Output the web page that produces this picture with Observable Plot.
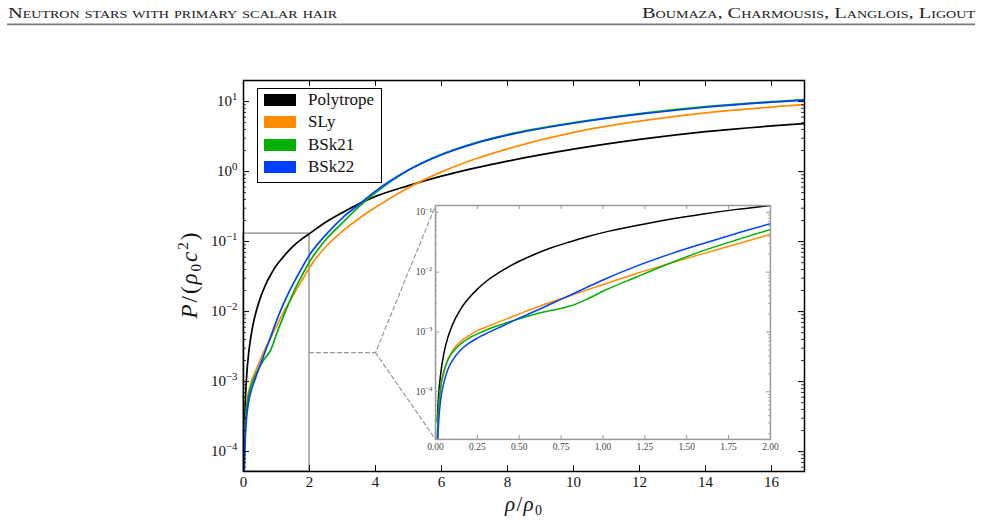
<!DOCTYPE html>
<html>
<head>
<meta charset="utf-8">
<script src="https://cdn.jsdelivr.net/npm/d3@7"></script>
<script src="https://cdn.jsdelivr.net/npm/@observablehq/plot@0.6"></script>
<style>
  html, body { margin: 0; padding: 0; background: #fff; }
  #page { position: relative; width: 982px; height: 523px; overflow: hidden; font-family: "Liberation Serif", "DejaVu Serif", serif; }
  #header { display: block; }
  #chart { position: relative; width: 982px; height: 493px; }
  #chart svg { position: absolute; left: 0; top: 0; }
  #legend { position: absolute; background: #fff; border: 1.5px solid #000; box-sizing: border-box; }
  #legend .row { position: absolute; left: 6px; height: 12px; display: flex; align-items: center; white-space: nowrap; }
  #legend .sw { width: 32px; height: 12px; }
  #legend .lab { margin-left: 12px; font-family: "Liberation Serif", "DejaVu Serif", serif; font-size: 17px; color: #111; line-height: 12px; }
</style>
</head>
<body>
<div id="page">
  <svg id="header" width="982" height="30">
    <text x="8" y="17.5" font-family="Liberation Serif, serif" font-size="14.5" font-variant="small-caps" textLength="329" lengthAdjust="spacingAndGlyphs" fill="#222">Neutron stars with primary scalar hair</text>
    <text x="975" y="17.5" text-anchor="end" font-family="Liberation Serif, serif" font-size="14.5" font-variant="small-caps" textLength="333" lengthAdjust="spacingAndGlyphs" fill="#222">Boumaza, Charmousis, Langlois, Ligout</text>
    <line x1="7" x2="975" y1="24.4" y2="24.4" stroke="#7a7a7a" stroke-width="1.8"/>
  </svg>
  <div id="chart"></div>
</div>
<script>
// Equations of state: pressure P/(rho0 c^2) against density rho/rho0
const rho = [0.01, 0.015, 0.02, 0.03, 0.05, 0.075, 0.1, 0.15, 0.2, 0.25,
             0.3, 0.4, 0.5, 0.6, 0.7, 0.8, 0.9, 1.0,
             1.2, 1.4, 1.6, 1.8, 2.0,
             2.5, 3.0, 3.5, 4.0,
             5.0, 6.0, 7.0, 8.0,
             10, 12, 14, 17];

const pPolytrope = [3.2e-5, 6.3e-5, 1.0e-4, 1.9e-4, 4.4e-4, 8.3e-4, 1.29e-3, 2.4e-3, 3.7e-3, 5.2e-3,
                    6.9e-3, 0.0107, 0.0152, 0.0203, 0.026, 0.032, 0.0388, 0.0458,
                    0.0600, 0.0766, 0.0940, 0.112, 0.130,
                    0.191, 0.260, 0.347, 0.442,
                    0.631, 0.861, 1.12, 1.41,
                    2.09, 2.88, 3.72, 4.85];

const pSLy = [1.26e-5, 3.2e-5, 5.6e-5, 1.07e-4, 2.1e-4, 3.5e-4, 4.8e-4, 6.9e-4, 8.7e-4, 1.05e-3,
              1.2e-3, 1.55e-3, 2.0e-3, 2.57e-3, 3.24e-3, 4.0e-3, 5.0e-3, 6.2e-3,
              9.5e-3, 0.014, 0.0204, 0.0295, 0.0427,
              0.085, 0.141, 0.214, 0.309,
              0.59, 0.99, 1.5, 2.11,
              3.63, 5.25, 6.9, 9.06];

const pBSk21 = [1.58e-5, 4.0e-5, 6.8e-5, 1.2e-4, 2.2e-4, 3.5e-4, 4.5e-4, 6.3e-4, 7.9e-4, 9.3e-4,
                1.07e-3, 1.35e-3, 1.66e-3, 2.0e-3, 2.32e-3, 2.69e-3, 3.47e-3, 4.8e-3,
                8.3e-3, 0.0141, 0.0229, 0.0347, 0.0513,
                0.107, 0.186, 0.316, 0.5,
                1.05, 1.76, 2.56, 3.38,
                5.0, 6.75, 8.45, 10.7];

const pBSk22 = [7.9e-6, 2.0e-5, 3.5e-5, 7.1e-5, 1.41e-4, 2.4e-4, 3.3e-4, 5.0e-4, 6.5e-4, 7.9e-4,
                9.3e-4, 1.26e-3, 1.70e-3, 2.26e-3, 3.05e-3, 4.07e-3, 5.5e-3, 7.4e-3,
                0.0126, 0.020, 0.0302, 0.0447, 0.0646,
                0.126, 0.219, 0.339, 0.525,
                1.05, 1.74, 2.51, 3.31,
                4.9, 6.6, 8.3, 10.5];

const eosNames = ["Polytrope", "SLy", "BSk21", "BSk22"];
const eosColors = ["#000000", "#ff8c00", "#00b000", "#0040ff"];
const pressures = [pPolytrope, pSLy, pBSk21, pBSk22];

// axis ticks
const xTicks = [0, 2, 4, 6, 8, 10, 12, 14, 16];
const yTicks = [1e-4, 1e-3, 1e-2, 1e-1, 1, 10];
const insetXTicks = [0, 0.25, 0.5, 0.75, 1.0, 1.25, 1.5, 1.75, 2.0];
const insetYTicks = [1e-4, 1e-3, 1e-2, 1e-1];

// axis ranges
const xDomain = [0, 17];
const yDomain = [5.2e-5, 20];
const insetXDomain = [0, 2];
const insetYDomain = [1.6e-5, 0.13];

// the zoomed-in window and where the inset sits, in main-axis units
const insetRho = [5.82, 15.97];
const insetP = [1.49e-4, 0.327];
const kneeRho = 4;

const SERIF = "'Liberation Serif', 'DejaVu Serif', serif";
const GRAY = "#999999";

const table = eosNames.flatMap((name, i) =>
  rho.map((r, j) => ({eos: name, rho: r, P: pressures[i][j]})));

function minorTicks([lo, hi]) {
  const e0 = Math.floor(Math.log10(lo)), e1 = Math.ceil(Math.log10(hi));
  return d3.range(e0, e1).flatMap(e => d3.range(2, 10).map(k => k * Math.pow(10, e)))
    .filter(v => v > lo && v < hi);
}

function powerLabel(d) { return "10^" + Math.round(Math.log10(d)); }

function superscriptLabels(svg, sel) {
  d3.select(svg).selectAll(sel).each(function () {
    const t = this.textContent;
    if (!t.includes("^")) return;
    const [base, exp] = t.split("^");
    this.textContent = "";
    const s = d3.select(this);
    s.append("tspan").text(base);
    s.append("tspan").attr("dy", "-0.55em").attr("font-size", "0.72em").text(exp.replace("-", "\u2212"));
  });
}

// ---------- main chart ----------
const M = {left: 243, right: 178, top: 50, bottom: 52};
const W = 982, H = 493;
const FW = W - M.left - M.right, FH = H - M.top - M.bottom;

const zoomBox = [{x1: insetXDomain[0], x2: insetXDomain[1], y1: yDomain[0], y2: insetYDomain[1]}];
const midP = Math.sqrt(yDomain[0] * insetYDomain[1]);
const connectors = [
  {id: "upper", rho: insetXDomain[1], P: midP},
  {id: "upper", rho: kneeRho, P: midP},
  {id: "upper", rho: insetRho[0], P: insetP[1]},
  {id: "lower", rho: kneeRho, P: midP},
  {id: "lower", rho: insetRho[0], P: insetP[0]}
];

const yMinor = minorTicks(yDomain);

const main = Plot.plot({
  width: W, height: H,
  marginLeft: M.left, marginRight: M.right, marginTop: M.top, marginBottom: M.bottom,
  style: {fontFamily: SERIF, fontSize: "14px", background: "transparent", color: "#111"},
  x: {domain: xDomain},
  y: {type: "log", domain: yDomain},
  color: {domain: eosNames, range: eosColors},
  marks: [
    Plot.rect(zoomBox, {x1: "x1", x2: "x2", y1: "y1", y2: "y2", fill: "none", stroke: GRAY, strokeWidth: 1.5}),
    Plot.line(connectors, {x: "rho", y: "P", z: "id", stroke: GRAY, strokeWidth: 1.2, strokeDasharray: "4,3"}),
    Plot.line(table, {x: "rho", y: "P", z: "eos", stroke: "eos", strokeWidth: 1.7, curve: "monotone-x", clip: true}),
    // inward ticks on all four sides
    Plot.ruleY(yTicks, {insetRight: FW - 6, stroke: "#000"}),
    Plot.ruleY(yTicks, {insetLeft: FW - 6, stroke: "#000"}),
    Plot.ruleY(yMinor, {insetRight: FW - 3, stroke: "#000", strokeWidth: 0.8}),
    Plot.ruleY(yMinor, {insetLeft: FW - 3, stroke: "#000", strokeWidth: 0.8}),
    Plot.ruleX(xTicks, {insetTop: FH - 6, stroke: "#000"}),
    Plot.ruleX(xTicks, {insetBottom: FH - 6, stroke: "#000"}),
    Plot.axisX({ticks: xTicks, tickSize: 0, tickPadding: 5, label: null, tickFormat: d => String(d), fontSize: 15}),
    Plot.axisY({ticks: yTicks, tickSize: 0, tickPadding: 6, label: null, tickFormat: powerLabel, fontSize: 15}),
    Plot.frame({stroke: "#000", strokeWidth: 1.5})
  ]
});
superscriptLabels(main, 'g[aria-label="y-axis tick label"] text');

// axis titles
const msvg = d3.select(main);
const xl = msvg.append("text")
  .attr("x", M.left + FW / 2).attr("y", H - 12)
  .attr("text-anchor", "middle").attr("font-family", SERIF).attr("font-size", 21).attr("fill", "#111")
  .attr("textLength", 37);
xl.append("tspan").attr("font-style", "italic").text("\u03c1");
xl.append("tspan").text("/");
xl.append("tspan").attr("font-style", "italic").text("\u03c1");
xl.append("tspan").attr("font-size", 14).attr("dy", 4).text("0");

const yl = msvg.append("text")
  .attr("transform", `translate(${M.left - 46},${M.top + FH / 2}) rotate(-90)`)
  .attr("text-anchor", "middle").attr("font-family", SERIF).attr("font-size", 23).attr("fill", "#111")
  .attr("textLength", 86);
yl.append("tspan").attr("font-style", "italic").text("P");
yl.append("tspan").text("/(");
yl.append("tspan").attr("font-style", "italic").text("\u03c1");
yl.append("tspan").attr("font-size", 15).attr("dy", 4).text("0");
yl.append("tspan").attr("font-style", "italic").attr("dy", -4).text("c");
yl.append("tspan").attr("font-size", 15).attr("dy", -9).text("2");
yl.append("tspan").attr("dy", 9).text(")");

const chart = document.getElementById("chart");
chart.appendChild(main);

// ---------- inset ----------
const xs = main.scale("x"), ys = main.scale("y");
const ix0 = xs.apply(insetRho[0]), ix1 = xs.apply(insetRho[1]);
const iy0 = ys.apply(insetP[1]), iy1 = ys.apply(insetP[0]);
const IM = {left: 36, right: 12, top: 6, bottom: 20};
const IW = ix1 - ix0, IH = iy1 - iy0;
const iyMinor = minorTicks(insetYDomain);

const inset = Plot.plot({
  width: IW + IM.left + IM.right, height: IH + IM.top + IM.bottom,
  marginLeft: IM.left, marginRight: IM.right, marginTop: IM.top, marginBottom: IM.bottom,
  style: {fontFamily: SERIF, fontSize: "9px", background: "transparent", color: "#444"},
  x: {domain: insetXDomain},
  y: {type: "log", domain: insetYDomain},
  color: {domain: eosNames, range: eosColors},
  marks: [
    Plot.frame({fill: "#fff", stroke: "none"}),
    Plot.line(table, {x: "rho", y: "P", z: "eos", stroke: "eos", strokeWidth: 1.5, curve: "monotone-x", clip: true}),
    Plot.ruleY(insetYTicks, {insetRight: IW - 4, stroke: GRAY}),
    Plot.ruleY(insetYTicks, {insetLeft: IW - 4, stroke: GRAY}),
    Plot.ruleY(iyMinor, {insetRight: IW - 2, stroke: GRAY, strokeWidth: 0.8}),
    Plot.ruleY(iyMinor, {insetLeft: IW - 2, stroke: GRAY, strokeWidth: 0.8}),
    Plot.ruleX(insetXTicks, {insetTop: IH - 4, stroke: GRAY}),
    Plot.ruleX(insetXTicks, {insetBottom: IH - 4, stroke: GRAY}),
    Plot.axisX({ticks: insetXTicks, tickSize: 0, tickPadding: 4, label: null, tickFormat: d3.format(".2f"), fontSize: 9.5}),
    Plot.axisY({ticks: insetYTicks, tickSize: 0, tickPadding: 3, label: null, tickFormat: powerLabel, fontSize: 9.5}),
    Plot.frame({stroke: GRAY, strokeWidth: 1.5})
  ]
});
superscriptLabels(inset, 'g[aria-label="y-axis tick label"] text');
inset.style.left = (ix0 - IM.left) + "px";
inset.style.top = (iy0 - IM.top) + "px";
chart.appendChild(inset);

// ---------- legend ----------
const legend = document.createElement("div");
legend.id = "legend";
legend.style.left = (M.left + 14) + "px";
legend.style.top = (M.top + 7.5) + "px";
legend.style.width = "125px";
legend.style.height = "95px";
eosNames.forEach((name, i) => {
  const row = document.createElement("div");
  row.className = "row";
  row.style.top = (5.5 + i * 22.4) + "px";
  const sw = document.createElement("div");
  sw.className = "sw";
  sw.style.background = eosColors[i];
  const lab = document.createElement("span");
  lab.className = "lab";
  lab.textContent = name;
  row.appendChild(sw);
  row.appendChild(lab);
  legend.appendChild(row);
});
chart.appendChild(legend);
</script>
</body>
</html>
